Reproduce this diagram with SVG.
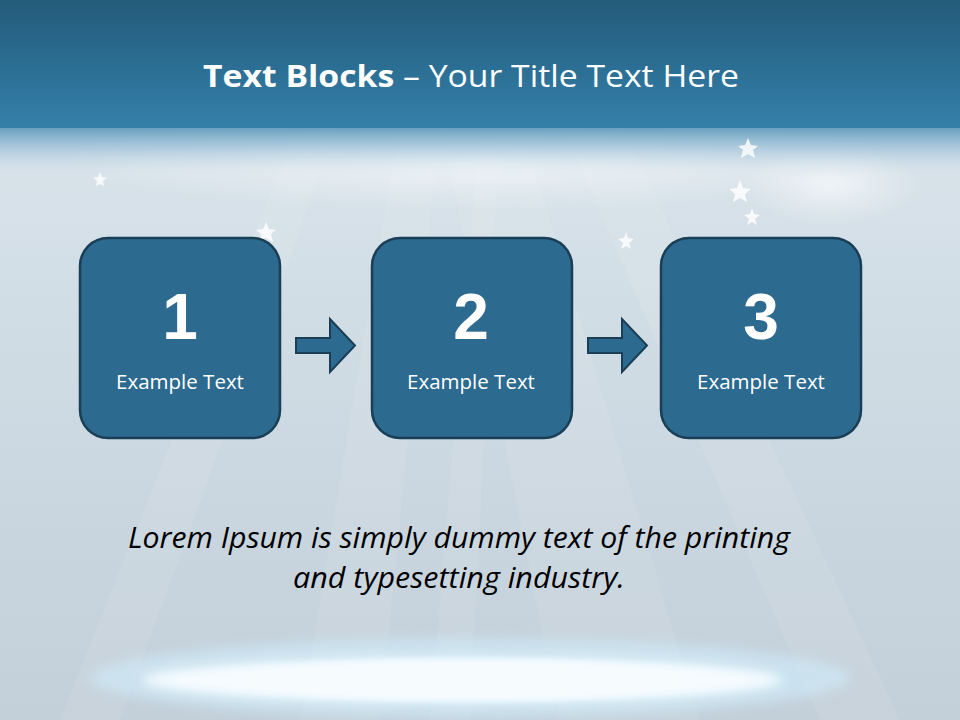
<svg xmlns="http://www.w3.org/2000/svg" width="960" height="720" viewBox="0 0 960 720">
<defs>
<linearGradient id="hdr" x1="0" y1="0" x2="0" y2="1">
<stop offset="0" stop-color="#235b7b"/>
<stop offset="1" stop-color="#3480aa"/>
</linearGradient>
<linearGradient id="bg" x1="0" y1="0" x2="0" y2="1">
<stop offset="0" stop-color="#dfe8ef"/>
<stop offset="0.4" stop-color="#d2dee6"/>
<stop offset="1" stop-color="#c3cfd9"/>
</linearGradient>
<linearGradient id="fade" x1="0" y1="0" x2="0" y2="1">
<stop offset="0" stop-color="#3a84ad" stop-opacity="1"/>
<stop offset="0.5" stop-color="#8fb8d2" stop-opacity="0.6"/>
<stop offset="1" stop-color="#dfe8ef" stop-opacity="0"/>
</linearGradient>
<radialGradient id="glow" cx="0.5" cy="0.5" r="0.5">
<stop offset="0" stop-color="#ffffff" stop-opacity="0.6"/>
<stop offset="1" stop-color="#ffffff" stop-opacity="0"/>
</radialGradient>
<radialGradient id="spot" cx="0.5" cy="0.5" r="0.5">
<stop offset="0.6" stop-color="#f6fbfe"/>
<stop offset="0.78" stop-color="#d8f0fb" stop-opacity="0.9"/>
<stop offset="1" stop-color="#bfe3f5" stop-opacity="0"/>
</radialGradient>
<filter id="blur" x="-20%" y="-50%" width="140%" height="200%"><feGaussianBlur stdDeviation="6"/></filter>
<style>
.box{fill:#2c6a8f;stroke:#1a3e56;stroke-width:2.5}
.num{font-family:"Liberation Sans",Arial,sans-serif;font-weight:bold;font-size:64px;fill:#ffffff;text-anchor:middle}
.lbl{font-family:"Open Sans","Liberation Sans",sans-serif;font-size:20.5px;fill:#ffffff;text-anchor:middle}
.arr{fill:#2c6a8f;stroke:#1a3e56;stroke-width:2}
.body{font-family:"Open Sans","Liberation Sans",sans-serif;font-style:italic;font-size:29px;fill:#000000;text-anchor:middle}
.ray{fill:#ffffff;opacity:0.07}
.star{fill:#ffffff;opacity:0.8}
</style>
</defs>
<rect x="0" y="0" width="960" height="720" fill="url(#bg)"/>
<g>
<polygon class="ray" points="440,120 520,120 700,720 560,720"/>
<polygon class="ray" points="400,120 440,120 380,720 300,720"/>
<polygon class="ray" points="560,120 620,120 900,720 820,720"/>
<polygon class="ray" points="300,120 340,120 120,720 60,720"/>
<polygon class="ray" points="480,120 500,120 470,720 430,720"/>
</g>
<ellipse cx="830" cy="185" rx="90" ry="40" fill="url(#glow)"/>
<ellipse cx="480" cy="160" rx="420" ry="50" fill="url(#glow)"/>
<rect x="0" y="118" width="960" height="60" fill="url(#fade)"/>
<rect x="0" y="0" width="960" height="128" fill="url(#hdr)"/>
<g>
<ellipse cx="470" cy="678" rx="380" ry="40" fill="#cde9f6" opacity="0.7" filter="url(#blur)"/>
<ellipse cx="470" cy="680" rx="340" ry="27" fill="url(#spot)"/>
<ellipse cx="462" cy="680" rx="320" ry="22" fill="#f6fbfe" filter="url(#blur)"/>
</g>
<g>
<path class="star" d="M740,180 l3,8 8,1 -6,5 2,8 -7,-4 -7,4 2,-8 -6,-5 8,-1z"/>
<path class="star" d="M752,208 l2,6 6,1 -5,4 2,6 -5,-3 -5,3 2,-6 -5,-4 6,-1z"/>
<path class="star" d="M626,232 l2,6 6,1 -5,4 2,6 -5,-3 -5,3 2,-6 -5,-4 6,-1z"/>
<path class="star" d="M266,222 l3,7 7,1 -5,4 2,8 -7,-4 -7,4 2,-8 -5,-4 7,-1z"/>
<path class="star" d="M748,138 l3,7 7,1 -5,4 2,8 -7,-4 -7,4 2,-8 -5,-4 7,-1z" opacity="0.4"/>
<path class="star" d="M100,172 l2,5 5,1 -4,3 1,5 -4,-2 -4,2 1,-5 -4,-3 5,-1z" opacity="0.5"/>
</g>
<text x="471" y="87" font-family="'Open Sans','Liberation Sans',sans-serif" font-size="31" fill="#ffffff" text-anchor="middle" textLength="536" lengthAdjust="spacingAndGlyphs"><tspan font-weight="bold">Text Blocks</tspan> – Your Title Text Here</text>
<g id="connectors">
<path class="arr" d="M296,338 H330 V319 L355,345.5 L330,372 V353 H296 Z"/>
<path class="arr" d="M588,338 H622 V319 L647,345.5 L622,372 V353 H588 Z"/>
</g>
<g id="node1">
<rect class="box" x="80" y="238" width="200" height="200" rx="28"/>
<text class="num" x="180" y="339">1</text>
<text class="lbl" x="180" y="389">Example Text</text>
</g>
<g id="node2">
<rect class="box" x="372" y="238" width="200" height="200" rx="28"/>
<text class="num" x="471" y="339">2</text>
<text class="lbl" x="471" y="389">Example Text</text>
</g>
<g id="node3">
<rect class="box" x="661" y="238" width="200" height="200" rx="28"/>
<text class="num" x="761" y="339">3</text>
<text class="lbl" x="761" y="389">Example Text</text>
</g>
<text class="body" x="459" y="548" textLength="662" lengthAdjust="spacingAndGlyphs">Lorem Ipsum is simply dummy text of the printing</text>
<text class="body" x="459" y="588" textLength="332" lengthAdjust="spacingAndGlyphs">and typesetting industry.</text>
</svg>
